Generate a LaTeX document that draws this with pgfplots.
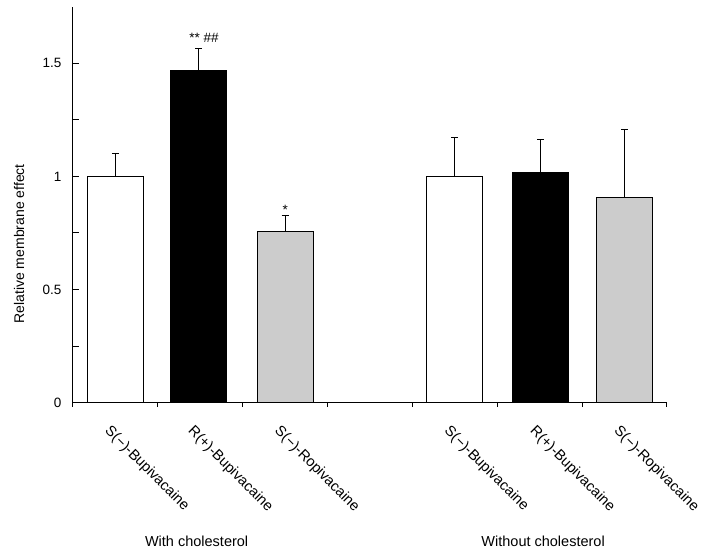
\documentclass[border=0pt]{standalone}
\usepackage{fontspec}
\setmainfont{Liberation Sans}
\usepackage{pgfplots}
\pgfplotsset{compat=1.18}
\definecolor{barGray}{HTML}{CCCCCC}
\begin{document}
\begin{tikzpicture}
\useasboundingbox (0,0) rectangle (712pt,552pt);
\begin{axis}[
  at={(73pt,149.3pt)}, anchor=south west,
  scale only axis, width=594pt, height=396pt,
  xmin=0, xmax=7, ymin=0, ymax=1.75,
  axis lines=left, axis line style={-, line width=1pt},
  tick align=outside, major tick length=6pt, minor tick length=4pt,
  tick style={black, line width=1pt},
  ytick={0,0.25,0.5,0.75,1,1.25,1.5},
  yticklabels={0,,0.5,,1,,1.5},
  ytick style={xshift=6pt},
  yticklabel style={xshift=-2pt, font=\fontsize{13.5}{16}\selectfont},
  xtick={0.5,1.48,2.5,4.5,5.51,6.5},
  xticklabels={S(−)-Bupivacaine,R(+)-Bupivacaine,S(−)-Ropivacaine,S(−)-Bupivacaine,R(+)-Bupivacaine,S(−)-Ropivacaine},
  major x tick style={draw=none},
  minor xtick={0,1,2,3,4,5,6,7},
  xticklabel style={rotate=-45, anchor=north west, font=\fontsize{14.6}{16}\selectfont, xshift=5pt, yshift=-10pt},
  /pgf/number format/assume math mode=true,
  clip=false,
  ybar, bar width=56pt,
  error bars/y dir=plus, error bars/y explicit,
  error bars/error mark options={rotate=90, mark size=3.5pt, line width=1pt, black},
  error bars/error bar style={line width=1pt, black},
]
\addplot[ybar, bar shift=0pt, draw=black, line width=1pt, fill=white] coordinates {(0.5,1.0) +- (0,0.100) (4.5,1.0) +- (0,0.170)};
\addplot[ybar, bar shift=0pt, draw=black, line width=1pt, fill=black] coordinates {(1.48,1.466) +- (0,0.098) (5.51,1.018) +- (0,0.144)};
\addplot[ybar, bar shift=0pt, draw=black, line width=1pt, fill=barGray] coordinates {(2.5,0.757) +- (0,0.069) (6.5,0.906) +- (0,0.302)};
\node[anchor=base, font=\fontsize{13.5}{16}\selectfont] at (axis cs:1.543,1.564) [yshift=6pt] {** \#\#};
\node[anchor=base, font=\fontsize{13.5}{16}\selectfont] at (axis cs:2.5,0.826) [yshift=1.5pt] {*};
\node[anchor=base, font=\fontsize{14.5}{16}\selectfont] at (axis cs:1.457,0) [yshift=-143.8pt] {With cholesterol};
\node[anchor=base, font=\fontsize{14.5}{16}\selectfont] at (axis cs:5.54,0) [yshift=-143.8pt] {Without cholesterol};
\node[rotate=90, anchor=center, font=\fontsize{14}{16}\selectfont] at ([xshift=-54pt]axis cs:0,0.702) {Relative membrane effect};
\end{axis}
\end{tikzpicture}
\end{document}
